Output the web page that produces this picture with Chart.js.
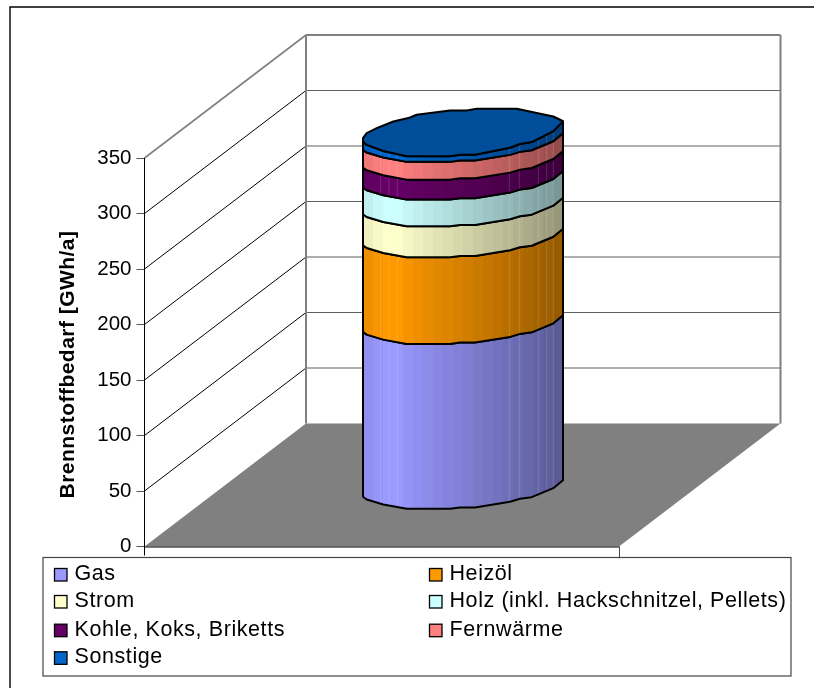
<!DOCTYPE html>
<html>
<head>
<meta charset="utf-8">
<style>html,body{margin:0;padding:0;background:#fff}canvas{display:block}</style>
<script src="https://cdn.jsdelivr.net/npm/chart.js@4"></script>
</head>
<body>
<canvas id="c" width="814" height="688"></canvas>
<script>
const categories = [''];
const seriesNames = ['Gas','Heizöl','Strom','Holz (inkl. Hackschnitzel, Pellets)','Kohle, Koks, Briketts','Fernwärme','Sonstige'];
const gas = [149];
const heizoel = [78];
const strom = [28];
const holz = [24];
const kohle = [18];
const fernwaerme = [16];
const sonstige = [9];
const seriesColors = ['#9999ff','#ff9900','#ffffcc','#ccffff','#660066','#ff8080','#0066cc'];
const yTitle = 'Brennstoffbedarf [GWh/a]';
const FONT = '"Liberation Sans", Arial, sans-serif';

// rim shape of the drawn cylinder (pixel offsets from its centre line, outline is a coarse polygon)
const rimFront = [[-1,7.8],[-.963,10.5],[-.797,15.5],[-.563,19.8],[-.13,19.8],[-.03,18.5],[.12,18.5],[.47,12.8],[.57,9.8],[.687,8.2],[.903,-.8],[1,-8.8]];
const rimBack = [[-1,6],[-.963,1],[-.863,-4],[-.697,-10.6],[-.547,-14],[-.463,-17.3],[-.13,-21.6],[.037,-21.6],[.137,-23.3],[.537,-23.3],[.737,-19],[.903,-15.6],[.987,-11.6],[1,-10.6]];
const shade = [[0,.92],[.11,1],[.17,1],[.285,.93],[.5,.83],[.735,.72],[1,.58]];
const facetLines = [380.7,389,397.3,509.3,519.3,538.3,546.7,553.3];
const DEPTH_X = 161.5, DEPTH_Y = 123, CYL_DX = 81.25, CYL_DY = -57, TOP_RY = 1.22;

function factor(t){
  for(let i=1;i<shade.length;i++){
    if(t<=shade[i][0]){
      const a=shade[i-1],b=shade[i];
      return a[1]+(b[1]-a[1])*(t-a[0])/(b[0]-a[0]);
    }
  }
  return shade[shade.length-1][1];
}
function rgb(hex){return [1,3,5].map(i=>parseInt(hex.substr(i,2),16));}
function tint(c,f){return 'rgb('+c.map(v=>Math.round(v*f)).join(',')+')';}

const scenePlugin = {
  id:'scene',
  beforeDraw(chart){
    const {ctx,scales:{y},chartArea:a}=chart;
    ctx.save();
    // outer frame
    ctx.strokeStyle='#000';ctx.lineWidth=1.4;
    ctx.beginPath();ctx.moveTo(10,688);ctx.lineTo(10,7);ctx.lineTo(814,7);ctx.stroke();
    const bx=a.left+DEPTH_X, base=y.getPixelForValue(0), rx=bx+a.right-a.left;
    // floor
    ctx.fillStyle='#808080';
    ctx.beginPath();ctx.moveTo(a.left,base);ctx.lineTo(bx,base-DEPTH_Y);ctx.lineTo(rx,base-DEPTH_Y);ctx.lineTo(a.right,base);ctx.closePath();ctx.fill();
    // walls and gridlines
    y.ticks.forEach(t=>{
      const p=y.getPixelForValue(t.value), top=t.value===350;
      if(t.value===0) return;
      ctx.strokeStyle=top?'#808080':'#000';ctx.lineWidth=top?1.6:1;
      ctx.beginPath();ctx.moveTo(a.left,p);ctx.lineTo(bx,p-DEPTH_Y);ctx.stroke();
      ctx.strokeStyle=top?'#808080':'#606060';ctx.lineWidth=top?2:1.2;
      ctx.beginPath();ctx.moveTo(bx,p-DEPTH_Y);ctx.lineTo(rx,p-DEPTH_Y);ctx.stroke();
    });
    ctx.strokeStyle='#808080';ctx.lineWidth=2;
    const t=y.getPixelForValue(350)-DEPTH_Y;
    ctx.beginPath();ctx.moveTo(bx,t);ctx.lineTo(bx,base-DEPTH_Y);ctx.stroke();
    ctx.beginPath();ctx.moveTo(rx,t);ctx.lineTo(rx,base-DEPTH_Y);ctx.stroke();
    // front floor edge and stubs
    ctx.strokeStyle='#000';ctx.lineWidth=1.2;
    ctx.beginPath();ctx.moveTo(a.left,base+.5);ctx.lineTo(a.right,base+.5);ctx.stroke();
    ctx.lineWidth=1;
    ctx.beginPath();ctx.moveTo(a.left,base);ctx.lineTo(a.left,base+9);ctx.stroke();
    ctx.strokeStyle='#444';
    ctx.beginPath();ctx.moveTo(a.right+.5,base);ctx.lineTo(a.right+.5,base+11);ctx.stroke();
    ctx.restore();
  },
  beforeDatasetsDraw(chart){
    const {ctx}=chart;
    const metas=chart.data.datasets.map((d,i)=>chart.getDatasetMeta(i).data[0]);
    ctx.save();
    ctx.lineJoin='round';
    metas.forEach((bar,i)=>{
      const cx=bar.x+CYL_DX, r=bar.width/2, last=i===metas.length-1;
      const c=rgb(chart.data.datasets[i].backgroundColor);
      const left=cx-r;
      const g=ctx.createLinearGradient(left,0,cx+r,0);
      const n=20;
      for(let k=0;k<n;k++){
        const col=tint(c,factor((k+.5)/n));
        g.addColorStop(k/n,col);g.addColorStop((k+1)/n,col);
      }
      const lo=bar.base+CYL_DY, hi=bar.y+CYL_DY, k=last?TOP_RY:1;
      const path=()=>{
        ctx.beginPath();
        rimFront.forEach(([u,d],j)=>{const x=cx+u*r,y=lo+d;j?ctx.lineTo(x,y):ctx.moveTo(x,y);});
        for(let j=rimFront.length-1;j>=0;j--){const [u,d]=rimFront[j];ctx.lineTo(cx+u*r,hi+d*k);}
        ctx.closePath();
      };
      path();
      ctx.fillStyle=g;ctx.fill();
      ctx.save();ctx.clip();
      ctx.strokeStyle='rgba(255,255,255,.15)';ctx.lineWidth=1;
      facetLines.forEach(x=>{ctx.beginPath();ctx.moveTo(x,lo+30);ctx.lineTo(x,hi-30);ctx.stroke();});
      ctx.restore();
      path();
      ctx.strokeStyle='#000';ctx.lineWidth=2;ctx.stroke();
      if(last){
        ctx.beginPath();
        rimFront.forEach(([u,d],j)=>{const x=cx+u*r,y=hi+d*k;j?ctx.lineTo(x,y):ctx.moveTo(x,y);});
        for(let j=rimBack.length-1;j>=0;j--){const [u,d]=rimBack[j];ctx.lineTo(cx+u*r,hi+d);}
        ctx.closePath();
        ctx.fillStyle=tint(c,.75);ctx.fill();
        ctx.strokeStyle='#000';ctx.stroke();
      }
    });
    ctx.restore();
    return false;
  },
  afterDraw(chart){
    const {ctx}=chart;
    ctx.save();
    // axis title
    ctx.fillStyle='#000';ctx.font='bold 21px '+FONT;ctx.letterSpacing='0.47px';ctx.textAlign='center';ctx.textBaseline='middle';
    ctx.translate(68,364.5);ctx.rotate(-Math.PI/2);ctx.fillText(yTitle,0,0);
    ctx.restore();
    // legend
    ctx.save();
    ctx.fillStyle='#fff';ctx.strokeStyle='#444';ctx.lineWidth=1.2;
    ctx.fillRect(43,557.5,748,118.5);ctx.strokeRect(43,557.5,748,118.5);
    const rows=[580,607,635.7,663.3], cols=[54.5,429.5];
    ctx.font='21.5px '+FONT;ctx.letterSpacing='0.58px';ctx.textAlign='left';ctx.textBaseline='alphabetic';
    chart.data.datasets.forEach((d,i)=>{
      const col=cols[i%2], b=rows[Math.floor(i/2)];
      ctx.fillStyle=d.backgroundColor;ctx.strokeStyle='#000';ctx.lineWidth=1.3;
      ctx.fillRect(col,b-11.5,12.5,12.5);ctx.strokeRect(col,b-11.5,12.5,12.5);
      ctx.fillStyle='#000';
      ctx.fillText(d.label,col+20,b);
    });
    ctx.restore();
  }
};

const allSeries=[gas,heizoel,strom,holz,kohle,fernwaerme,sonstige];
new Chart(document.getElementById('c'),{
  type:'bar',
  data:{
    labels:categories,
    datasets:allSeries.map((v,i)=>({label:seriesNames[i],data:v,backgroundColor:seriesColors[i],categoryPercentage:1,barPercentage:.4215}))
  },
  plugins:[scenePlugin],
  options:{
    responsive:false,animation:false,
    layout:{padding:{top:158,bottom:141.5,right:195,left:0}},
    plugins:{legend:{display:false},tooltip:{enabled:false},title:{display:false}},
    scales:{
      x:{stacked:true,display:false},
      y:{
        stacked:true,min:0,max:350,
        afterFit(s){s.width=144.5;},
        ticks:{stepSize:50,color:'#000',padding:5,font:{family:FONT,size:20.5}},
        grid:{drawOnChartArea:false,drawTicks:true,tickLength:8,color:'#555'},
        border:{color:'#000',width:1}
      }
    }
  }
});
</script>
</body>
</html>
